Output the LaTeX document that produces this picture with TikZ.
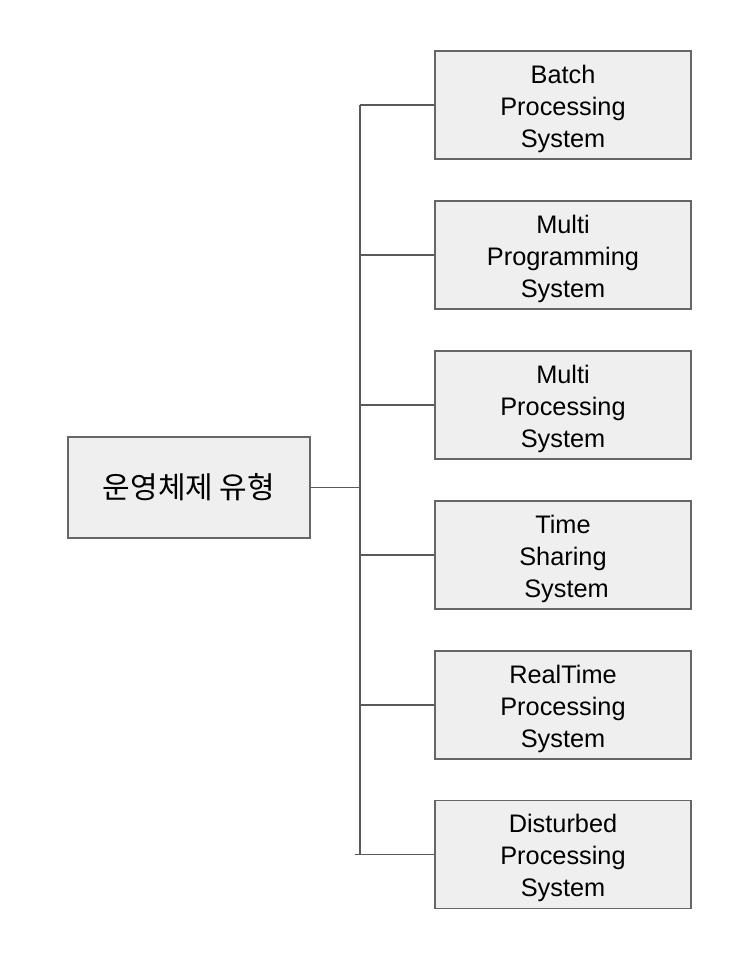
\documentclass[tikz,border=0pt]{standalone}
\usepackage{fontspec}
\setmainfont{Liberation Sans}
\newfontfamily\kofont{Noto Sans CJK KR}
\usepackage{xcolor}
\usetikzlibrary{positioning}
\definecolor{boxfill}{HTML}{EFEFEF}
\definecolor{boxline}{HTML}{666666}
\definecolor{wire}{HTML}{595959}

\begin{document}
\begin{tikzpicture}[x=0.75pt,y=-0.75pt,
  typebox/.style={draw=boxline,fill=boxfill,line width=1pt,
    minimum width=192pt,minimum height=81pt,inner sep=0pt,
    label={[align=center,yshift=-2.8pt,font=\fontsize{19}{24}\selectfont]center:#1}},
  rootbox/.style={draw=boxline,fill=boxfill,line width=1pt,
    minimum width=181.5pt,minimum height=75.75pt,inner sep=0pt,
    font=\kofont\fontsize{22.5}{24}\selectfont},
  wireline/.style={draw=wire,line width=1pt}]
\useasboundingbox (0,0) rectangle (744,962);
% root
\node [rootbox] (root) at (189,487.5) {운영체제 유형};
% types
\node [typebox={Batch\\Processing\\System}] (batch) at (563,105) {};
\node [typebox={Multi\\Programming\\System}] (multiprog) at (563,255) {};
\node [typebox={Multi\\Processing\\System}] (multiproc) at (563,405) {};
\node [typebox={Time\\Sharing\\\ System}] (timeshare) at (563,555) {};
\node [typebox={RealTime\\Processing\\System}] (realtime) at (563,705) {};
\node [typebox={Disturbed\\Processing\\System}] (distrib) at (563,854.5) {};
% trunk
\coordinate (t1) at (360,105);
\coordinate (t2) at (360,255);
\coordinate (t3) at (360,405);
\coordinate (t4) at (360,555);
\coordinate (t5) at (360,705);
\coordinate (t6) at (360,854.5);
\coordinate (t6l) at (355,854.5);
\coordinate (tr) at (360,487.5);
\draw [wireline] (t1) -- (t6);
\draw [wireline] (root.east) -- (tr);
\draw [wireline] (t1) -- (batch.west);
\draw [wireline] (t2) -- (multiprog.west);
\draw [wireline] (t3) -- (multiproc.west);
\draw [wireline] (t4) -- (timeshare.west);
\draw [wireline] (t5) -- (realtime.west);
\draw [wireline] (t6l) -- (distrib.west);
\end{tikzpicture}
\end{document}
